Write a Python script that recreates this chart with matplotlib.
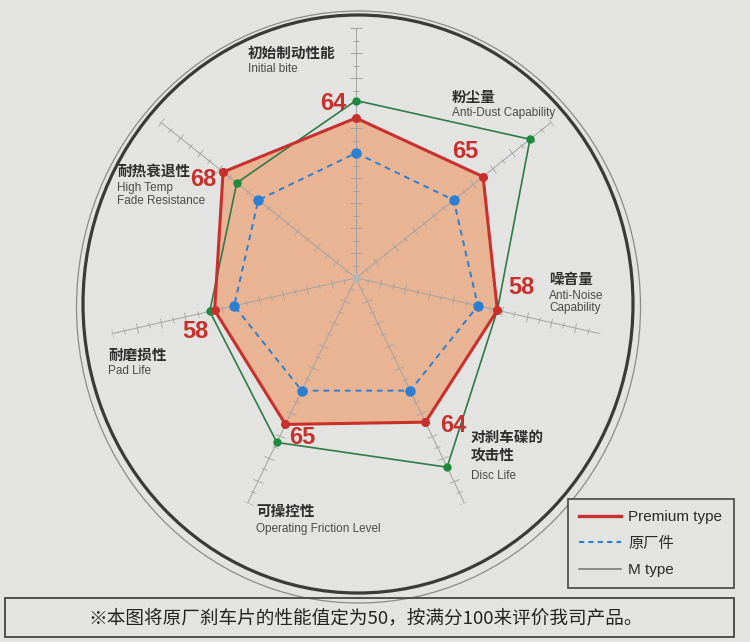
import numpy as np
import matplotlib
matplotlib.use("Agg")
import matplotlib.pyplot as plt
from matplotlib.patches import Ellipse, Rectangle
from matplotlib.lines import Line2D
from matplotlib.markers import MarkerStyle
from matplotlib.transforms import Affine2D

plt.rcParams['font.family'] = ['Liberation Sans', 'Noto Sans CJK SC', 'DejaVu Sans']

# ---------------- data ----------------
categories_cn = ["初始制动性能", "粉尘量", "噪音量", "对刹车碟的\n攻击性", "可操控性", "耐磨损性", "耐热衰退性"]
categories_en = ["Initial bite", "Anti-Dust Capability", "Anti-Noise\nCapability", "Disc Life",
                 "Operating Friction Level", "Pad Life", "High Temp\nFade Resistance"]
premium = [64, 65, 58, 64, 65, 58, 68]
original = [50, 50, 50, 50, 50, 50, 50]
m_type = [71, 89, 58, 84, 73, 60, 61]
series_names = ["Premium type", "原厂件", "M type"]
footnote = "※本图将原厂刹车片的性能值定为50，按满分100来评价我司产品。"
r_max = 100

BG = '#e3e4e2'
RED = '#c8302e'
BLUE = '#2a7fd2'
GREEN_LINE = '#2f7a47'
GREEN_PT = '#1e8a3e'
GRID = '#a2a2a2'

W, H = 750, 642
fig = plt.figure(figsize=(7.5, 6.42), dpi=100, facecolor=BG)

# background / decoration axes in pixel coordinates
ax_bg = fig.add_axes([0, 0, 1, 1])
ax_bg.set_xlim(0, W)
ax_bg.set_ylim(H, 0)
ax_bg.axis('off')
ax_bg.add_patch(Ellipse((358.5, 307), 2 * 282, 2 * 296, fill=False, lw=0.9, ec='#8a8a8a'))
ax_bg.add_patch(Ellipse((358, 304), 2 * 275, 2 * 289, fill=False, lw=2.3, ec='#3a3a3a'))
ax_bg.add_patch(Rectangle((5, 598), 729, 39, fill=False, lw=1.3, ec='#444444'))

# radar axes
cx, cy, R = 356, 278, 250
ax = fig.add_axes([(cx - R) / W, (H - cy - R) / H, 2 * R / W, 2 * R / H], projection='polar')
ax.set_facecolor('none')
ax.set_theta_zero_location('N')
ax.set_theta_direction(-1)
ax.set_ylim(0, r_max)
ax.grid(False)
ax.spines['polar'].set_visible(False)
ax.set_xticks([])
ax.set_yticks([])

n = len(premium)
theta = np.linspace(0, 2 * np.pi, n, endpoint=False)
theta_c = np.append(theta, theta[0])

def closed(v):
    return np.append(v, v[0])

# fill of premium
ax.fill(theta_c, closed(premium), color='#e9b494', zorder=1, lw=0)

# spokes with ticks
major_r = np.arange(10, r_max + 1, 10)
minor_r = np.arange(5, r_max, 10)
for t in theta:
    ax.plot([t, t], [0, r_max], color=GRID, lw=0.7, zorder=2)
    deg = np.degrees(t)
    mk = MarkerStyle('_', transform=Affine2D().rotate_deg(-deg))
    ax.plot([t] * len(major_r), major_r, ls='none', marker=mk, ms=8, mew=0.6, color=GRID, zorder=2)
    ax.plot([t] * len(minor_r), minor_r, ls='none', marker=mk, ms=4, mew=0.6, color=GRID, zorder=2)
ax.plot([0], [0], 'o', color='#b5b5b5', ms=5, zorder=2)

# series
ax.plot(theta_c, closed(original), color=BLUE, lw=1.4, ls=(0, (3, 2.5)), zorder=3)
ax.plot(theta, original, 'o', color=BLUE, ms=6.5, zorder=3)
ax.plot(theta_c, closed(m_type), color=GREEN_LINE, lw=1.2, zorder=4)
ax.plot(theta, m_type, 'o', color=GREEN_PT, ms=5, zorder=4)
ax.plot(theta_c, closed(premium), color=RED, lw=2.2, zorder=5)
ax.plot(theta, premium, 'o', color=RED, ms=5.5, zorder=5)

# axis labels (pixel positions; first line position, following lines stepped down)
cn_pos = [(248, 53), (452, 97), (549, 279), (471, 437), (256, 511), (108, 355), (117, 171)]
en_pos = [(248, 69), (452, 113), (549, 296), (471, 476), (256, 529), (108, 371), (117, 188)]
cn_step, en_step = 18, 12.5
cjk = ['Noto Sans CJK SC', 'DejaVu Sans']
for i in range(n):
    x, y = cn_pos[i]
    for k, line in enumerate(categories_cn[i].split('\n')):
        ax_bg.text(x, y + k * cn_step, line, ha='left', va='center', fontsize=10.5, family=cjk,
                   fontweight='bold', color='#2e2e2e', zorder=10)
    x, y = en_pos[i]
    for k, line in enumerate(categories_en[i].split('\n')):
        ax_bg.text(x, y + k * en_step, line, ha='left', va='center', fontsize=8.5,
                   color='#4a4a4a', zorder=10)

# value labels (premium)
val_pos = [(333, 103), (465, 151), (521, 287), (453, 425), (302, 438), (195, 331), (203, 180)]
for i in range(n):
    x, y = val_pos[i]
    fig.text(x / W, 1 - y / H, str(premium[i]), ha='center', va='center', fontsize=17,
             fontweight='bold', color=RED, zorder=10)

# legend
handles = [Line2D([], [], color=RED, lw=2.4),
           Line2D([], [], color=BLUE, lw=1.5, ls=(0, (2.5, 2))),
           Line2D([], [], color='#707070', lw=1.1)]
leg = fig.legend(handles, series_names, loc='upper left', bbox_to_anchor=(568 / W, 1 - 499 / H),
                 frameon=True, fancybox=False, edgecolor='#454545', facecolor=BG, framealpha=1,
                 fontsize=11, handlelength=2.7, labelspacing=0.8, borderpad=0.75,
                 handletextpad=0.5, borderaxespad=0)
leg.get_frame().set_linewidth(1.2)
for txt in leg.get_texts():
    txt.set_color('#2a2a2a')

# footnote
ax_bg.text(366, 618, footnote, ha='center', va='center', fontsize=13.4, family=cjk, color='#222222')

fig.savefig('out.png', dpi=100, facecolor=BG)
